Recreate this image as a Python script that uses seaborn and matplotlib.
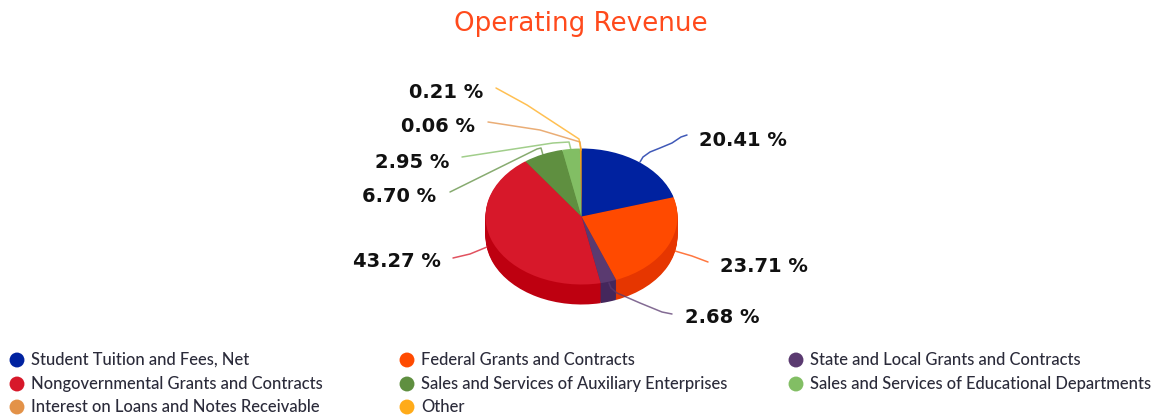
import matplotlib
matplotlib.use("Agg")
import matplotlib.pyplot as plt
import pandas as pd
import seaborn as sns

categories = [
    "Student Tuition and Fees, Net",
    "Federal Grants and Contracts",
    "State and Local Grants and Contracts",
    "Nongovernmental Grants and Contracts",
    "Sales and Services of Auxiliary Enterprises",
    "Sales and Services of Educational Departments",
    "Interest on Loans and Notes Receivable",
    "Other",
]
shares = [20.41, 23.71, 2.68, 43.27, 6.70, 2.95, 0.06, 0.21]
colors = ["#0022A0", "#FF4A00", "#5A3A70", "#D7182A", "#5F8F40", "#82BE64", "#E39248", "#FFAB19"]
side_colors = ["#001A80", "#E63600", "#44275C", "#BE0010", "#4A7530", "#6AA04E", "#C87A35", "#E09010"]

# layout, in pixels of the 1159x415 image
W, H = 1159, 415
CX, CY, RX, RY, DEPTH = 581.5, 216.5, 96, 68, 20
label_pos = [(699, 140), (720, 266), (685, 317), (353, 261), (362, 196), (375, 162), (401, 126), (409, 92)]
leader_paths = [
    [(640, 162), (643, 157), (650, 152), (660, 148), (672, 143), (681, 137), (687, 135)],
    [(675, 251), (692, 256), (708, 262)],
    [(609, 283), (611, 288), (617, 293), (640, 303), (662, 312), (672, 314)],
    [(487, 247), (470, 254), (453, 258)],
    [(450, 192), (537, 149), (541, 148), (543, 155)],
    [(462, 157), (553, 143), (569, 142), (571, 150)],
    [(488, 122), (540, 130), (580, 142), (581, 150)],
    [(496, 88), (527, 105), (579, 139), (581, 150)],
]
legend_x = [17, 407, 796]
legend_y = [360, 384, 407]

sns.set_theme(style="white")
fig = plt.figure(figsize=(W / 100, H / 100), dpi=100, facecolor="white")

# pie axes: x/y limits are stretched so the circle reads as a tilted ellipse
pad = 1.1
left = (CX - RX * pad) / W
bottom = 1 - (CY + RY * pad + DEPTH) / H
width = 2 * RX * pad / W
height = (2 * RY * pad + DEPTH) / H
ax = fig.add_axes([left, bottom, width, height])
step = 1 / RY
for i in range(DEPTH, 0, -1):
    ax.pie(shares, colors=side_colors, startangle=90, counterclock=False,
           center=(0, -i * step), wedgeprops={"linewidth": 0})
ax.pie(shares, colors=colors, startangle=90, counterclock=False,
       center=(0, 0), wedgeprops={"linewidth": 0})
ax.set_aspect("auto")
ax.set_xlim(-pad, pad)
ax.set_ylim(-pad - DEPTH * step, pad)
ax.axis("off")

# overlay in image pixels for title, labels, leaders, legend
over = fig.add_axes([0, 0, 1, 1], facecolor="none")
over.set_xlim(0, W)
over.set_ylim(H, 0)
over.axis("off")

over.text(581, 24, "Operating Revenue", color="#FF4A1C", fontsize=18.8,
          family="DejaVu Sans", ha="center", va="center")

for share, color, path, pos in zip(shares, colors, leader_paths, label_pos):
    xs, ys = zip(*path)
    over.plot(xs, ys, color=color, lw=1.1, alpha=0.75, solid_joinstyle="round")
    over.text(pos[0], pos[1], f"{share:.2f} %", color="#111111", fontsize=14.05,
              family="DejaVu Sans", weight="bold", ha="left", va="center")

rows = []
for i, name in enumerate(categories):
    rows.append({"x": legend_x[i % 3], "y": legend_y[i // 3], "name": name})
legend_df = pd.DataFrame(rows)
sns.scatterplot(data=legend_df, x="x", y="y", hue="name", palette=colors, hue_order=categories,
                s=115, linewidth=0, legend=False, ax=over)
over.set_xlim(0, W)
over.set_ylim(H, 0)
over.axis("off")
for _, row in legend_df.iterrows():
    over.text(row["x"] + 14, row["y"], row["name"], color="#2B2B3A", fontsize=11.9,
              family="Lato", weight="medium", ha="left", va="center")

fig.savefig("out.png", dpi=100)
